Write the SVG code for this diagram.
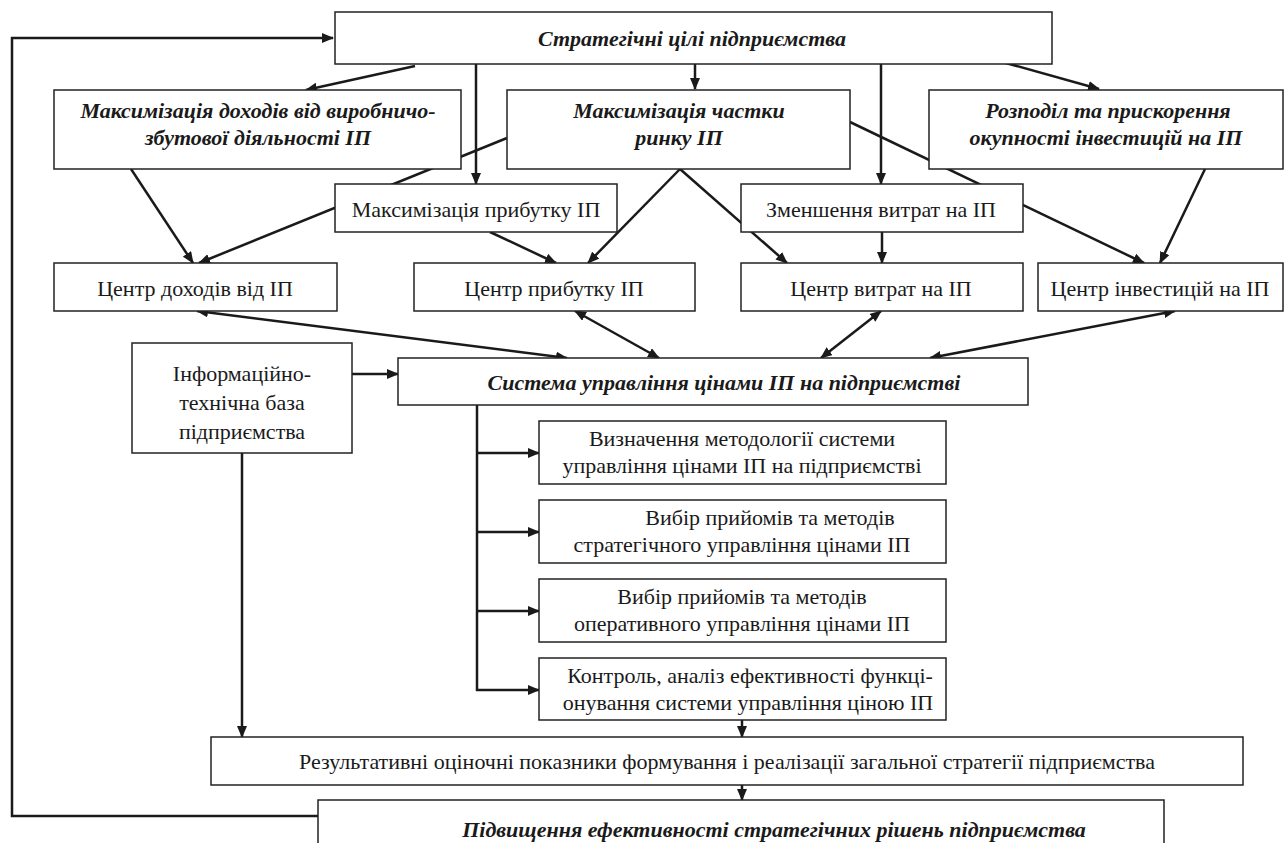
<svg xmlns="http://www.w3.org/2000/svg" width="1285" height="843" viewBox="0 0 1285 843">
<defs>
<marker id="ah" markerUnits="userSpaceOnUse" markerWidth="12" markerHeight="10" refX="11" refY="5" orient="auto-start-reverse">
<path d="M0,0 L12,5 L0,10 z" fill="#1a1a1a"/>
</marker>
<style>
.box{fill:#fff;stroke:#222;stroke-width:1.5}
.c line,.c polyline{stroke:#1a1a1a;stroke-width:2.5;fill:none}
.t{font-size:22px;fill:#1a1a1a;text-anchor:middle}
.b{font-weight:bold;font-style:italic}
</style>
</defs>
<rect width="1285" height="843" fill="#fff"/>

<g id="connectors" class="c">
<polyline points="318,816 12,816 12,38 333,38" marker-end="url(#ah)"/>
<line x1="415" y1="66" x2="306" y2="90" marker-end="url(#ah)"/>
<line x1="476" y1="58" x2="476" y2="184" marker-end="url(#ah)"/>
<line x1="695" y1="58" x2="695" y2="89" marker-end="url(#ah)"/>
<line x1="881" y1="58" x2="881" y2="184" marker-end="url(#ah)"/>
<line x1="988" y1="58" x2="1099" y2="89" marker-end="url(#ah)"/>
<line x1="507" y1="138" x2="199" y2="263" marker-end="url(#ah)"/>
<line x1="131" y1="169" x2="193" y2="263" marker-end="url(#ah)"/>
<line x1="490" y1="232" x2="556" y2="263" marker-end="url(#ah)"/>
<line x1="680" y1="169" x2="588" y2="263" marker-end="url(#ah)"/>
<line x1="680" y1="169" x2="787" y2="263" marker-end="url(#ah)"/>
<line x1="882" y1="232" x2="882" y2="263" marker-end="url(#ah)"/>
<line x1="850" y1="122" x2="1144" y2="263" marker-end="url(#ah)"/>
<line x1="1205" y1="169" x2="1160" y2="263" marker-end="url(#ah)"/>
<line x1="197" y1="311" x2="567" y2="358" marker-start="url(#ah)" marker-end="url(#ah)"/>
<line x1="575" y1="311" x2="659" y2="358" marker-start="url(#ah)" marker-end="url(#ah)"/>
<line x1="881" y1="311" x2="821" y2="358" marker-start="url(#ah)" marker-end="url(#ah)"/>
<line x1="1175" y1="311" x2="930" y2="358" marker-start="url(#ah)" marker-end="url(#ah)"/>
<line x1="352" y1="374" x2="398" y2="374" marker-end="url(#ah)"/>
<line x1="242" y1="453" x2="242" y2="737" marker-end="url(#ah)"/>
<line x1="477" y1="405" x2="477" y2="691"/>
<line x1="476" y1="453" x2="539" y2="453" marker-end="url(#ah)"/>
<line x1="476" y1="532" x2="539" y2="532" marker-end="url(#ah)"/>
<line x1="476" y1="611" x2="539" y2="611" marker-end="url(#ah)"/>
<line x1="476" y1="690" x2="539" y2="690" marker-end="url(#ah)"/>
<line x1="742" y1="720" x2="742" y2="737" marker-end="url(#ah)"/>
<line x1="742" y1="785" x2="742" y2="800" marker-end="url(#ah)"/>
</g>

<g font-family="'Liberation Serif', 'DejaVu Serif', serif">
<g id="n-goals">
<rect class="box" x="335" y="12" width="717" height="52"/>
<text class="t b" x="692" y="46">Стратегічні цілі підприємства</text>
</g>
<g id="n-income-max">
<rect class="box" x="54" y="90" width="407" height="79"/>
<text class="t b" x="258" y="118">Максимізація доходів від виробничо-</text>
<text class="t b" x="258" y="145">збутової діяльності ІП</text>
</g>
<g id="n-share-max">
<rect class="box" x="507" y="90" width="343" height="79"/>
<text class="t b" x="679" y="118">Максимізація частки</text>
<text class="t b" x="679" y="145">ринку ІП</text>
</g>
<g id="n-invest">
<rect class="box" x="929" y="90" width="354" height="79"/>
<text class="t b" x="1108" y="118">Розподіл та прискорення</text>
<text class="t b" x="1106" y="145">окупності інвестицій на ІП</text>
</g>
<g id="n-profit-max">
<rect class="box" x="335" y="184" width="282" height="48"/>
<text class="t" x="476" y="217">Максимізація прибутку ІП</text>
</g>
<g id="n-cost-min">
<rect class="box" x="741" y="184" width="282" height="48"/>
<text class="t" x="881" y="217">Зменшення витрат на ІП</text>
</g>
<g id="n-c-income">
<rect class="box" x="54" y="263" width="283" height="48"/>
<text class="t" x="195" y="296">Центр доходів від ІП</text>
</g>
<g id="n-c-profit">
<rect class="box" x="414" y="263" width="281" height="48"/>
<text class="t" x="554" y="296">Центр прибутку ІП</text>
</g>
<g id="n-c-cost">
<rect class="box" x="741" y="263" width="282" height="48"/>
<text class="t" x="881" y="296">Центр витрат на ІП</text>
</g>
<g id="n-c-invest">
<rect class="box" x="1038" y="263" width="245" height="48"/>
<text class="t" x="1160" y="296">Центр інвестицій на ІП</text>
</g>
<g id="n-info">
<rect class="box" x="132" y="343" width="220" height="110"/>
<text class="t" x="242" y="381">Інформаційно-</text>
<text class="t" x="242" y="410">технічна база</text>
<text class="t" x="242" y="439">підприємства</text>
</g>
<g id="n-system">
<rect class="box" x="398" y="358" width="630" height="47"/>
<text class="t b" x="724" y="390">Система управління цінами ІП на підприємстві</text>
</g>
<g id="n-method">
<rect class="box" x="539" y="421" width="407" height="63"/>
<text class="t" x="742" y="446">Визначення методології системи</text>
<text class="t" x="742" y="473">управління цінами ІП на підприємстві</text>
</g>
<g id="n-strategic">
<rect class="box" x="539" y="500" width="407" height="63"/>
<text class="t" x="770" y="525">Вибір прийомів та методів</text>
<text class="t" x="742" y="552">стратегічного управління цінами ІП</text>
</g>
<g id="n-operative">
<rect class="box" x="539" y="579" width="407" height="63"/>
<text class="t" x="742" y="604">Вибір прийомів та методів</text>
<text class="t" x="742" y="631">оперативного управління цінами ІП</text>
</g>
<g id="n-control">
<rect class="box" x="539" y="658" width="407" height="62"/>
<text class="t" x="750" y="683">Контроль, аналіз ефективності функці-</text>
<text class="t" x="748" y="710">онування системи управління ціною ІП</text>
</g>
<g id="n-results">
<rect class="box" x="211" y="737" width="1032" height="48"/>
<text class="t" x="727" y="769">Результативні оціночні показники формування і реалізації загальної стратегії підприємства</text>
</g>
<g id="n-improve">
<path class="box" d="M318,845 L318,800 L1164,800 L1164,845"/>
<text class="t b" x="774" y="837">Підвищення ефективності стратегічних рішень підприємства</text>
</g>
</g>
</svg>
